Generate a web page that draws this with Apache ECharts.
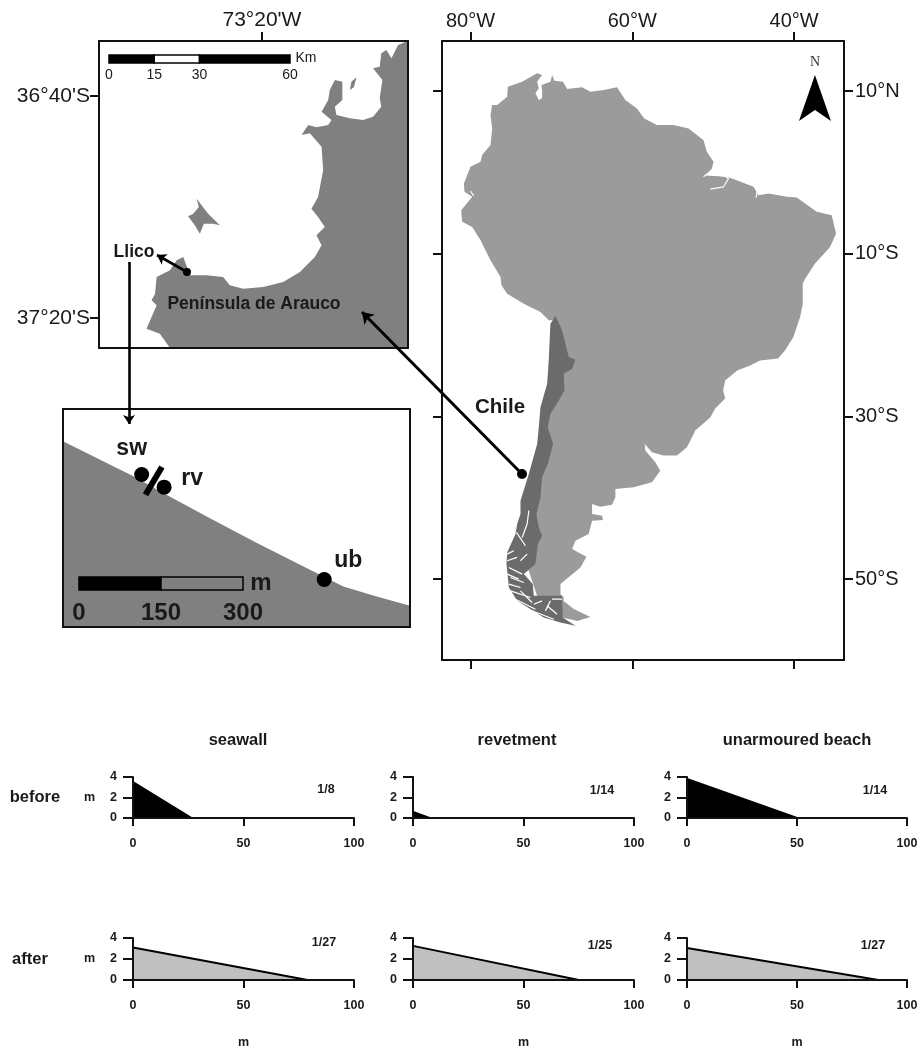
<!DOCTYPE html>
<html>
<head>
<meta charset="utf-8">
<style>html,body{margin:0;padding:0;background:#fff}#c{width:919px;height:1049px}</style>
<script src="https://cdn.jsdelivr.net/npm/echarts@6/dist/echarts.min.js"></script>
</head>
<body>
<div id="c"></div>
<script>
// ---------- South America map (lon, lat in degrees) ----------
const continent = [[-77.53,7.04],[-77.32,8.27],[-76.70,8.27],[-75.47,9.30],[-75.39,10.53],[-73.62,11.15],[-71.77,12.17],[-71.15,11.97],[-71.77,11.15],[-71.56,10.33],[-71.97,9.71],[-71.56,8.89],[-71.15,9.10],[-71.15,10.12],[-71.23,10.74],[-70.12,11.15],[-69.91,11.97],[-69.63,11.27],[-68.56,11.15],[-68.06,10.25],[-66.21,10.45],[-65.18,9.92],[-63.54,10.12],[-61.89,10.45],[-60.86,8.89],[-59.42,7.86],[-58.52,6.63],[-56.95,5.81],[-54.90,5.81],[-53.04,5.40],[-51.19,3.96],[-50.78,2.53],[-49.96,1.30],[-50.16,0.48],[-50.9,-0.4],[-48.31,-0.55],[-47.08,-0.96],[-45.02,-1.78],[-44.40,-2.81],[-43.17,-2.60],[-40.90,-3.01],[-39.67,-3.10],[-37.20,-4.86],[-35.35,-5.27],[-34.81,-7.53],[-35.55,-9.17],[-37.41,-11.22],[-38.64,-13.07],[-38.93,-13.69],[-38.93,-16.15],[-39.26,-17.79],[-40.08,-20.25],[-41.11,-21.89],[-41.98,-22.88],[-44.20,-23.13],[-45.43,-23.74],[-47.04,-24.36],[-48.52,-25.59],[-48.77,-26.82],[-48.52,-27.81],[-49.75,-29.04],[-50.37,-30.15],[-52.22,-31.75],[-52.42,-32.16],[-53.25,-33.80],[-54.48,-34.83],[-56.13,-34.83],[-57.57,-34.42],[-58.47,-33.39],[-58.39,-34.21],[-57.16,-35.65],[-56.54,-36.68],[-57.57,-38.11],[-59.83,-38.73],[-62.09,-38.93],[-62.09,-39.96],[-62.51,-40.86],[-63.95,-41.11],[-64.97,-40.78],[-64.97,-42.01],[-63.74,-42.22],[-63.62,-42.75],[-64.97,-42.83],[-65.39,-44.48],[-67.03,-45.30],[-67.44,-46.32],[-65.67,-47.27],[-66.41,-48.58],[-67.65,-49.61],[-68.88,-50.63],[-68.88,-51.87],[-68.47,-52.27],[-68.52,-52.68],[-67.28,-53.67],[-65.19,-54.66],[-66.79,-55.15],[-68.52,-54.78],[-71.36,-53.30],[-73.21,-47.76],[-72.59,-40.37],[-70.37,-28.05],[-69.51,-18.20],[-70.33,-18.20],[-71.35,-17.18],[-73.41,-16.15],[-75.47,-14.92],[-76.17,-13.89],[-76.29,-12.87],[-77.53,-10.81],[-78.76,-8.35],[-79.79,-6.71],[-81.03,-6.09],[-81.15,-4.66],[-79.79,-3.01],[-80.74,-2.40],[-80.82,-1.37],[-80.00,0.68],[-78.76,1.30],[-78.56,2.12],[-77.53,3.35],[-77.32,5.40]];
const chile = [[-69.50,-17.67],[-68.68,-19.43],[-67.86,-22.72],[-67.03,-23.05],[-67.44,-24.16],[-68.47,-24.77],[-68.39,-26.82],[-69.09,-28.05],[-70.12,-29.70],[-70.45,-31.34],[-69.79,-33.39],[-70.45,-35.85],[-71.15,-37.50],[-71.35,-39.96],[-71.85,-42.01],[-71.56,-43.65],[-71.15,-44.68],[-71.68,-45.71],[-71.97,-48.17],[-73.41,-49.40],[-72.30,-50.63],[-72.18,-52.07],[-68.68,-52.07],[-68.60,-54.74],[-67.03,-55.76],[-68.88,-55.35],[-70.94,-54.74],[-74.23,-52.69],[-75.26,-51.04],[-75.55,-48.17],[-75.47,-46.73],[-74.44,-44.48],[-74.23,-43.24],[-73.82,-42.01],[-73.82,-40.37],[-72.79,-37.09],[-71.76,-33.39],[-71.56,-31.34],[-71.35,-28.88],[-70.53,-26.00],[-70.33,-23.13],[-70.12,-18.61]];
const fjords = [
  [[-72.79,-41.60],[-73.00,-43.24],[-73.62,-44.89]],
  [[-74.32,-44.27],[-73.21,-45.91]],
  [[-75.47,-47.76],[-74.24,-47.35]],
  [[-75.27,-48.58],[-73.62,-49.40]],
  [[-75.06,-49.82],[-73.41,-50.43]],
  [[-75.06,-51.46],[-72.59,-52.28]],
  [[-74.44,-52.48],[-71.97,-53.72]],
  [[-73.41,-53.51],[-69.71,-54.95]],
  [[-72.18,-53.10],[-71.15,-52.69]],
  [[-70.12,-52.69],[-70.74,-53.92]],
  [[-70.53,-53.30],[-69.30,-54.33]],
  [[-69.92,-52.48],[-68.68,-52.48]],
  [[-73.83,-47.76],[-73.0,-46.94]],
  [[-75.47,-46.94],[-74.65,-46.53]],
  [[-75.27,-50.64],[-73.83,-51.05]],
  [[-73.83,-51.46],[-72.39,-52.89]],
  [[-75.47,-49.40],[-74.03,-50.02]],
  [[-51.19,-0.55],[-50.16,0.27]],
  [[-50.78,-0.22],[-48.52,-0.47],[-48.10,-0.76],[-48.72,-1.78],[-50.37,-2.07]],
  [[-44.55,-2.2],[-44.70,-3.1]],
  [[-80.0,-2.3],[-79.6,-2.9]]
];
const lonTicks = [-80, -60, -40];
const latTicks = [10, -10, -30, -50];
const northMark = [[-37.42, 9.14]];

// ---------- Arauco inset (lon, lat in degrees) ----------
const aurauco = [[-72.786,-36.501],[-72.823,-36.514],[-72.848,-36.554],[-72.867,-36.529],[-72.886,-36.539],[-72.892,-36.579],[-72.917,-36.584],[-72.882,-36.619],[-72.892,-36.674],[-72.886,-36.699],[-72.917,-36.729],[-72.954,-36.739],[-73.004,-36.734],[-73.054,-36.724],[-73.060,-36.699],[-73.032,-36.679],[-73.032,-36.624],[-73.060,-36.619],[-73.079,-36.649],[-73.085,-36.679],[-73.110,-36.714],[-73.073,-36.739],[-73.085,-36.754],[-73.129,-36.761],[-73.160,-36.754],[-73.185,-36.784],[-73.154,-36.779],[-73.110,-36.819],[-73.104,-36.889],[-73.123,-36.970],[-73.148,-37.005],[-73.123,-37.030],[-73.098,-37.060],[-73.129,-37.085],[-73.110,-37.115],[-73.135,-37.150],[-73.191,-37.195],[-73.254,-37.225],[-73.329,-37.240],[-73.404,-37.245],[-73.454,-37.235],[-73.479,-37.210],[-73.541,-37.205],[-73.603,-37.205],[-73.628,-37.150],[-73.653,-37.160],[-73.678,-37.190],[-73.728,-37.210],[-73.734,-37.260],[-73.747,-37.280],[-73.728,-37.295],[-73.766,-37.365],[-73.716,-37.380],[-73.678,-37.423],[-72.786,-37.423]];
const santaMaria = [[-73.578,-36.975],[-73.570,-37.000],[-73.591,-37.020],[-73.610,-37.028],[-73.585,-37.055],[-73.566,-37.080],[-73.551,-37.050],[-73.516,-37.050],[-73.491,-37.055],[-73.535,-37.020]];
const quiriquina = [[-72.979,-36.611],[-72.998,-36.624],[-73.004,-36.649],[-72.989,-36.641]];
const insetLonTicks = [-73.3333];
const insetLonLabels = ["73°20'W"];
const insetLatTicks = [-36.6667, -37.3333];
const insetLatLabels = ["36°40'S", "37°20'S"];

// ---------- Llico local map (metres) ----------
const localCoast = [[0,340],[68,306],[129,276],[184,245],[269,199],[354,154],[452,105],[513,74],[574,56],[635,39],[635,0],[0,0]];
const siteNames = ['sw', 'rv', 'ub'];
const sitePoints = [[144,279],[185,256],[478,87]];
const seawallBar = [[181,293],[151,242]];

// ---------- Scale bars ----------
const kmTicks = [0, 15, 30, 60];
const kmSegments = [[0,15,'#000'],[15,30,'#fff'],[30,60,'#000']];
const mTicks = [0, 150, 300];
const mSegments = [[0,150,'#000'],[150,300,'#808080']];

// ---------- Beach profiles ----------
const profileNames = ['seawall', 'revetment', 'unarmoured beach'];
const rowNames = ['before', 'after'];
const beforeProfiles = [[[0,3.5],[26.5,0]], [[0,0.6],[7.5,0]], [[0,3.8],[50,0]]];
const afterProfiles = [[[0,3.1],[79,0]], [[0,3.25],[75,0]], [[0,3.05],[87,0]]];
const beforeSlopes = ['1/8', '1/14', '1/14'];
const afterSlopes = ['1/27', '1/25', '1/27'];

// ---------- Connector arrows on the page (page units) ----------
const arrowChile = [[522,474],[362,312]];
const arrowLlico = [[187,272],[157,255]];
const arrowDown = [[129,262],[129,424]];
const arrowDots = [[522,474],[187,272]];

const FONT = '"Liberation Sans", Arial, sans-serif';
const INK = '#1a1a1a';
const grids = [], xAxes = [], yAxes = [], series = [];

function addGrid(left, top, width, height) {
  grids.push({ left, top, width, height, containLabel: false, show: false, outerBoundsMode: 'none' });
  return grids.length - 1;
}
const line2 = { show: true, onZero: false, lineStyle: { color: '#111', width: 2 } };
function nearestLabel(values, labels) {
  return v => {
    let b = 0;
    values.forEach((t, i) => { if (Math.abs(t - v) < Math.abs(values[b] - v)) b = i; });
    return labels[b];
  };
}
// Four-sided framed map axes; ticks and labels only where given
function frame(g, xr, yr, o) {
  const xi = xAxes.length, yi = yAxes.length;
  const fs = o.fontSize || 20;
  const common = { type: 'value', gridIndex: g, splitLine: { show: false }, axisLine: line2, z: 6, silent: true };
  const tick = v => v ? { show: true, length: 9, customValues: v, lineStyle: { color: '#111', width: 2 } } : { show: false };
  xAxes.push(Object.assign({}, common, { position: 'top', min: xr[0], max: xr[1], axisTick: tick(o.xTicks),
    axisLabel: o.xTicks ? { show: true, customValues: o.xTicks, formatter: o.xFmt, margin: 10, color: INK, fontSize: fs, fontFamily: FONT } : { show: false } }));
  xAxes.push(Object.assign({}, common, { position: 'bottom', min: xr[0], max: xr[1], axisTick: o.xBottom ? tick(o.xTicks) : { show: false }, axisLabel: { show: false } }));
  yAxes.push(Object.assign({}, common, { position: 'left', min: yr[0], max: yr[1], axisTick: o.yLeft ? tick(o.yTicks) : { show: false },
    axisLabel: o.yLeft === 'label' ? { show: true, customValues: o.yTicks, formatter: o.yFmt, margin: 9, color: INK, fontSize: fs, fontFamily: FONT } : { show: false } }));
  yAxes.push(Object.assign({}, common, { position: 'right', min: yr[0], max: yr[1], axisTick: o.yRight ? tick(o.yTicks) : { show: false },
    axisLabel: o.yRight === 'label' ? { show: true, customValues: o.yTicks, formatter: o.yFmt, margin: 11, color: INK, fontSize: fs, fontFamily: FONT } : { show: false } }));
  return { xi, yi };
}
function polygon(ax, points, color, z) {
  series.push({
    type: 'custom', xAxisIndex: ax.xi, yAxisIndex: ax.yi, z: z || 2, silent: true, clip: false,
    data: points, encode: { x: 0, y: 1 },
    renderItem(params, api) {
      if (params.dataIndex !== 0) return null;
      return { type: 'polygon', shape: { points: points.map(p => api.coord(p)) }, style: { fill: color } };
    }
  });
}
function segments(ax, segs, z) {
  series.push({
    type: 'custom', xAxisIndex: ax.xi, yAxisIndex: ax.yi, z: z, silent: true, clip: false,
    data: segs.map(s => [s[0], s[1]]), encode: { x: [0, 1] },
    renderItem(params, api) {
      const a = api.coord([api.value(0), 0]), b = api.coord([api.value(1), 1]);
      return { type: 'rect', shape: { x: a[0], y: b[1], width: b[0] - a[0], height: a[1] - b[1] },
        style: { fill: segs[params.dataIndex][2], stroke: '#000', lineWidth: 1.5 } };
    }
  });
}

// ---- Main map ----
const gMain = addGrid(442, 41, 402, 619);
const axMain = frame(gMain, [-83.523, -33.83], [-59.96, 16.148], {
  xTicks: lonTicks, xFmt: v => Math.abs(v) + '°W', xBottom: true,
  yTicks: latTicks, yFmt: v => v > 0 ? v + '°N' : (-v) + '°S', yLeft: true, yRight: 'label'
});
polygon(axMain, continent, '#9b9b9b', 2);
polygon(axMain, chile, '#6b6b6b', 3);
fjords.forEach(f => series.push({ type: 'line', xAxisIndex: axMain.xi, yAxisIndex: axMain.yi, data: f, symbol: 'none', silent: true, z: 4,
  lineStyle: { color: '#fff', width: 1.2 } }));
series.push({ type: 'scatter', xAxisIndex: axMain.xi, yAxisIndex: axMain.yi, data: northMark, symbol: 'path://M16 0 L32 46 L16 35 L0 46 Z',
  symbolSize: [32, 46], itemStyle: { color: '#000', opacity: 1 }, silent: true, z: 4,
  label: { show: true, formatter: 'N', position: 'top', distance: 6, color: '#333', fontSize: 14, fontFamily: '"Liberation Serif", serif' } });

// ---- Arauco inset ----
const gInset = addGrid(99, 41, 309, 307);
const axInset = frame(gInset, [-73.944, -72.786], [-37.423, -36.502], {
  fontSize: 21,
  xTicks: insetLonTicks, xFmt: nearestLabel(insetLonTicks, insetLonLabels),
  yTicks: insetLatTicks, yFmt: nearestLabel(insetLatTicks, insetLatLabels), yLeft: 'label'
});
polygon(axInset, aurauco, '#808080', 2);
polygon(axInset, santaMaria, '#808080', 2);
polygon(axInset, quiriquina, '#808080', 2);

// ---- Km scale bar ----
const gKm = addGrid(109, 55, 181, 8);
xAxes.push({ type: 'value', gridIndex: gKm, min: 0, max: 60, position: 'bottom', z: 6, splitLine: { show: false }, axisLine: { show: false }, axisTick: { show: false },
  axisLabel: { customValues: kmTicks, margin: 5, color: INK, fontSize: 14, fontFamily: FONT } });
yAxes.push({ type: 'value', gridIndex: gKm, min: 0, max: 1, show: false });
segments({ xi: xAxes.length - 1, yi: yAxes.length - 1 }, kmSegments, 5);

// ---- Local map ----
const gLocal = addGrid(63, 409, 347, 218);
const axLocal = frame(gLocal, [0, 635], [0, 399], {});
polygon(axLocal, localCoast, '#808080', 2);
series.push({ type: 'line', xAxisIndex: axLocal.xi, yAxisIndex: axLocal.yi, data: seawallBar, symbol: 'none', silent: true, z: 4, lineStyle: { color: '#000', width: 6 } });
const siteOffsets = [[-10, -26], [28, -8], [24, -19]];
series.push({ type: 'scatter', xAxisIndex: axLocal.xi, yAxisIndex: axLocal.yi, symbolSize: 15, silent: true, z: 4, itemStyle: { color: '#000', opacity: 1 },
  data: sitePoints.map((p, i) => ({ value: p, name: siteNames[i],
    label: { show: true, formatter: siteNames[i], position: 'inside', offset: siteOffsets[i], color: INK, fontSize: 23, fontWeight: 'bold', fontFamily: FONT } })) });

// ---- Metre scale bar ----
const gM = addGrid(79, 577, 164, 13);
xAxes.push({ type: 'value', gridIndex: gM, min: 0, max: 300, position: 'bottom', z: 6, splitLine: { show: false }, axisLine: { show: false }, axisTick: { show: false },
  axisLabel: { customValues: mTicks, margin: 11, color: INK, fontSize: 24, fontWeight: 'bold', fontFamily: FONT } });
yAxes.push({ type: 'value', gridIndex: gM, min: 0, max: 1, show: false });
segments({ xi: xAxes.length - 1, yi: yAxes.length - 1 }, mSegments, 5);

// ---- Beach profiles ----
const colLeft = [[133, 221], [413, 221], [687, 220]];
const rowTop = [[777, 41], [938, 42]];
rowTop.forEach((r, ri) => colLeft.forEach((c, ci) => {
  const g = addGrid(c[0], r[0], c[1], r[1]);
  const xi = xAxes.length, yi = yAxes.length;
  const lab = { color: INK, fontSize: 12.5, fontWeight: 'bold', fontFamily: FONT };
  xAxes.push({ type: 'value', gridIndex: g, min: 0, max: 100, interval: 50, position: 'bottom', z: 6, splitLine: { show: false }, axisLine: line2,
    axisTick: { length: 8, lineStyle: { color: '#111', width: 2 } }, axisLabel: Object.assign({ margin: 19 }, lab), silent: true,
    name: ri === 1 ? 'm' : '', nameLocation: 'middle', nameGap: 56, nameTextStyle: lab });
  yAxes.push({ type: 'value', gridIndex: g, min: 0, max: 4, interval: 2, position: 'left', z: 6, splitLine: { show: false }, axisLine: line2,
    axisTick: { length: 10, lineStyle: { color: '#111', width: 2 } }, axisLabel: Object.assign({ margin: 16 }, lab), silent: true,
    name: ci === 0 ? 'm' : '', nameLocation: 'middle', nameGap: 38, nameRotate: 0, nameTextStyle: lab });
  const before = ri === 0;
  series.push({ type: 'line', xAxisIndex: xi, yAxisIndex: yi, data: (before ? beforeProfiles : afterProfiles)[ci], symbol: 'none', silent: true, z: 3,
    lineStyle: { color: '#000', width: 2 }, areaStyle: { color: before ? '#000' : '#c0c0c0', opacity: 1 } });
}));

// ---- Page overlay for connectors ----
const gPage = addGrid(0, 0, 919, 1049);
const pageX = xAxes.length, pageY = yAxes.length;
xAxes.push({ type: 'value', gridIndex: gPage, min: 0, max: 919, show: false });
yAxes.push({ type: 'value', gridIndex: gPage, min: 0, max: 1049, inverse: true, show: false });
[[arrowChile, 3, 11], [arrowLlico, 2.6, 9], [arrowDown, 2.6, 9]].forEach(a => series.push({
  type: 'lines', coordinateSystem: 'cartesian2d', xAxisIndex: pageX, yAxisIndex: pageY, polyline: false, silent: true, z: 7,
  symbol: ['none', 'arrow'], symbolSize: a[2], lineStyle: { color: '#000', width: a[1], opacity: 1, curveness: 0 },
  data: [{ coords: a[0] }] }));
series.push({ type: 'scatter', xAxisIndex: pageX, yAxisIndex: pageY, data: arrowDots.map((p, i) => ({ value: p, symbolSize: i === 0 ? 10 : 8 })),
  itemStyle: { color: '#000', opacity: 1 }, silent: true, z: 8 });

// ---- Text ----
function txt(text, x, y, size, weight) {
  return { type: 'text', z: 100, silent: true, style: { text, x, y, fill: INK, align: 'center', verticalAlign: 'middle',
    font: (weight || 'bold') + ' ' + size + 'px ' + FONT } };
}
const graphicText = [
  txt('Km', 306, 58, 14, 'normal'), txt('m', 261, 583, 24),
  txt('Llico', 134, 252, 17.5), txt('Península de Arauco', 254, 304, 17.5), txt('Chile', 500, 407, 20.5)
];
const titleX = [238, 517, 797], slopeX = [[326, 602, 875], [324, 600, 873]], slopeY = [[790, 791, 791], [943, 946, 946]];
profileNames.forEach((n, i) => {
  graphicText.push(txt(n, titleX[i], 740, 16.5));
  graphicText.push(txt(beforeSlopes[i], slopeX[0][i], slopeY[0][i], 12.5));
  graphicText.push(txt(afterSlopes[i], slopeX[1][i], slopeY[1][i], 12.5));
});
graphicText.push(txt(rowNames[0], 35, 797, 16.5), txt(rowNames[1], 30, 959, 16.5));

const chart = echarts.init(document.getElementById('c'), null, { renderer: 'canvas' });
chart.setOption({
  animation: false, backgroundColor: '#fff', tooltip: { show: false },
  grid: grids, xAxis: xAxes, yAxis: yAxes, series, graphic: { elements: graphicText }
});
</script>
</body>
</html>
